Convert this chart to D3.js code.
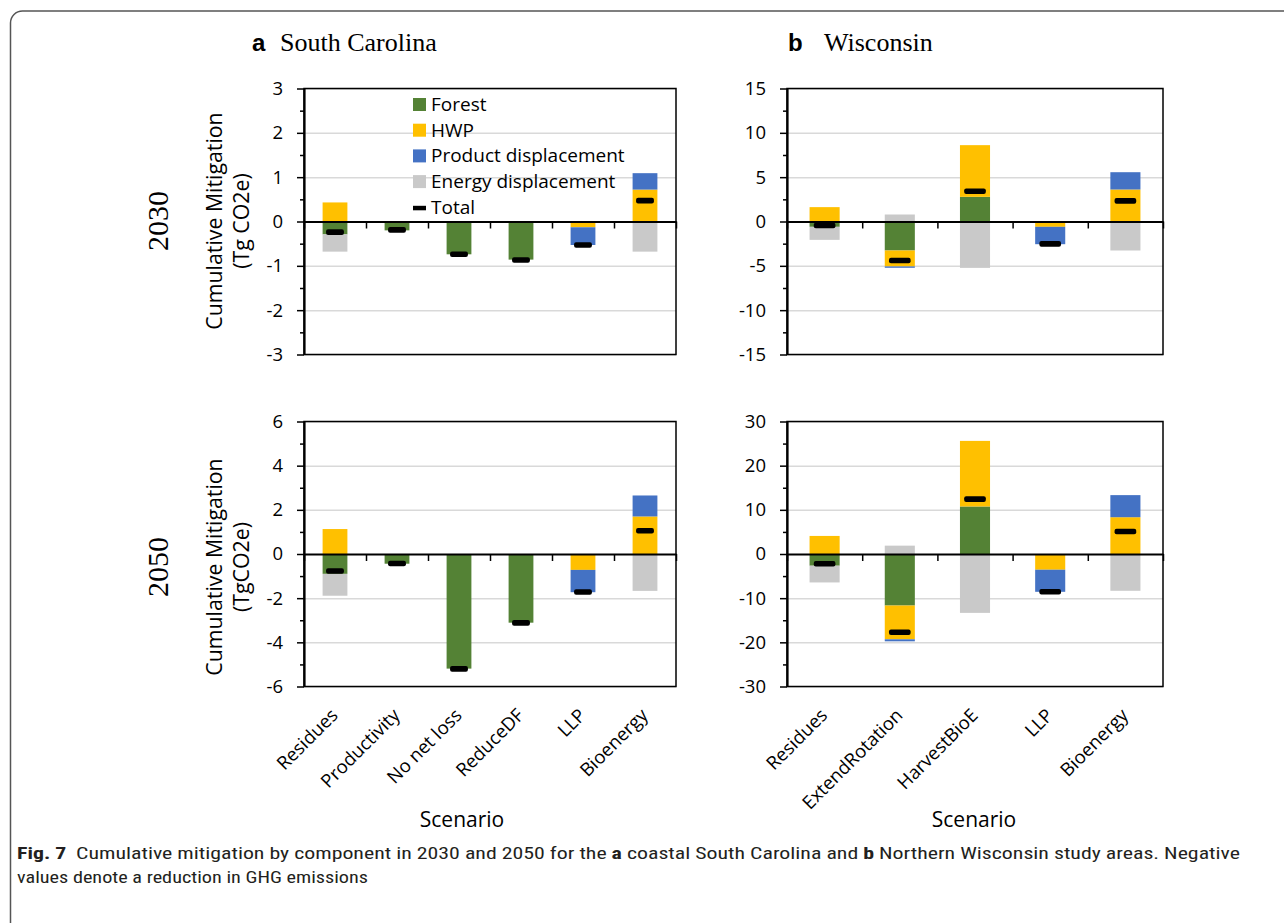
<!DOCTYPE html>
<html>
<head>
<meta charset="utf-8">
<script src="https://cdnjs.cloudflare.com/ajax/libs/d3/7.8.5/d3.min.js"></script>
<style>
  body { margin: 0; background: #fff; }
  text { font-family: "Open Sans", sans-serif; fill: #000; }
</style>
</head>
<body>
<div id="chart"></div>
<script>
// series names, in Excel stacking order
const keys = ["Forest", "HWP", "Product displacement", "Energy displacement"];
const colors = ["#548235", "#FFC000", "#4472C4", "#C9C9C9"];

const scCats = ["Residues", "Productivity", "No net loss", "ReduceDF", "LLP", "Bioenergy"];
const wiCats = ["Residues", "ExtendRotation", "HarvestBioE", "LLP", "Bioenergy"];

// South Carolina 2030 (Tg CO2e)
const sc30Forest  = [-0.29, -0.20, -0.74, -0.86, 0, 0];
const sc30HWP     = [0.43, 0, 0, 0, -0.13, 0.72];
const sc30Product = [0, 0, 0, 0, -0.40, 0.37];
const sc30Energy  = [-0.39, 0, 0, 0, 0, -0.68];
const sc30Total   = [-0.24, -0.19, -0.74, -0.87, -0.53, 0.47];

// South Carolina 2050
const sc50Forest  = [-0.90, -0.44, -5.19, -3.11, 0, 0];
const sc50HWP     = [1.13, 0, 0, 0, -0.72, 1.70];
const sc50Product = [0, 0, 0, 0, -1.01, 0.95];
const sc50Energy  = [-0.99, 0, 0, 0, 0, -1.67];
const sc50Total   = [-0.77, -0.43, -5.20, -3.12, -1.72, 1.05];

// Wisconsin 2030
const wi30Forest  = [-0.60, -3.27, 2.78, 0, 0];
const wi30HWP     = [1.62, -1.80, 5.83, -0.60, 3.61];
const wi30Product = [0, -0.15, 0, -1.96, 1.95];
const wi30Energy  = [-1.47, 0.79, -5.23, 0, -3.27];
const wi30Total   = [-0.45, -4.40, 3.42, -2.52, 2.33];

// Wisconsin 2050
const wi50Forest  = [-2.65, -11.67, 10.76, 0, 0];
const wi50HWP     = [4.09, -7.65, 14.85, -3.56, 8.33];
const wi50Product = [0, -0.45, 0, -5.00, 5.00];
const wi50Energy  = [-3.79, 1.89, -13.33, 0, -8.33];
const wi50Total   = [-2.20, -17.70, 12.42, -8.56, 5.08];

const W = 1284, H = 923;

const svg = d3.select("#chart").append("svg")
    .attr("width", W)
    .attr("height", H);

// rounded figure frame
svg.append("rect")
    .attr("x", 10.5).attr("y", 11)
    .attr("width", 1300).attr("height", 1000)
    .attr("rx", 12)
    .attr("fill", "none")
    .attr("stroke", "#555")
    .attr("stroke-width", 1.5);

function drawPanel(p) {
    const rows = p.cats.map((c, i) => {
        const r = { cat: c };
        r[keys[0]] = p.forest[i];
        r[keys[1]] = p.hwp[i];
        r[keys[2]] = p.product[i];
        r[keys[3]] = p.energy[i];
        r.total = p.total[i];
        return r;
    });
    const stacked = d3.stack().keys(keys).offset(d3.stackOffsetDiverging)(rows);

    const x = d3.scaleBand().domain(p.cats).range([p.x0, p.x1]).paddingInner(0.6).paddingOuter(0.3);
    const y = d3.scaleLinear().domain(p.domain).range([p.y1, p.y0]);
    const g = svg.append("g");

    // gridlines
    g.append("g")
        .attr("transform", "translate(" + p.x0 + ",0)")
        .call(d3.axisLeft(y).tickValues(p.major.filter(v => v != 0)).tickSize(-(p.x1 - p.x0)).tickFormat(""))
        .call(a => a.select(".domain").remove())
        .selectAll("line").attr("stroke", "#d9d9d9").attr("stroke-width", 1.5);

    // stacked bars
    g.selectAll(".series")
        .data(stacked)
        .enter().append("g")
        .attr("fill", (d, i) => colors[i])
        .selectAll("rect")
        .data(d => d)
        .enter().append("rect")
        .attr("x", d => x(d.data.cat))
        .attr("y", d => y(Math.max(d[0], d[1])))
        .attr("width", x.bandwidth())
        .attr("height", d => Math.abs(y(d[0]) - y(d[1])));

    // plot frame
    g.append("rect")
        .attr("x", p.x0).attr("y", p.y0)
        .attr("width", p.x1 - p.x0).attr("height", p.y1 - p.y0)
        .attr("fill", "none").attr("stroke", "#000").attr("stroke-width", 1.5);

    // y axis, minor then major
    g.append("g")
        .attr("transform", "translate(" + p.x0 + ",0)")
        .call(d3.axisLeft(y).tickValues(p.minor).tickSize(4).tickSizeOuter(0).tickFormat(""))
        .call(a => a.select(".domain").remove())
        .selectAll("line").attr("stroke-width", 1.5);
    const ya = g.append("g")
        .attr("transform", "translate(" + p.x0 + ",0)")
        .call(d3.axisLeft(y).tickValues(p.major).tickSize(7).tickSizeOuter(0).tickPadding(14).tickFormat(d => String(d)));
    ya.select(".domain").attr("stroke-width", 2.2);
    ya.selectAll("line").attr("stroke-width", 1.5);
    ya.selectAll("text").style("font-size", "18.5px").style("font-family", "'Open Sans', sans-serif");

    // zero line with category separators
    const sep = d3.scaleLinear().domain([0, p.cats.length]).range([p.x0, p.x1]);
    const za = g.append("g")
        .attr("transform", "translate(0," + y(0) + ")")
        .call(d3.axisBottom(sep).tickValues(d3.range(p.cats.length + 1)).tickSize(7).tickSizeOuter(0).tickFormat(""));
    za.select(".domain").attr("stroke-width", 2.2);
    za.selectAll("line").attr("stroke-width", 1.5);

    // totals
    const mw = x.bandwidth() * 0.72;
    g.selectAll(".total")
        .data(rows)
        .enter().append("rect")
        .attr("class", "total")
        .attr("x", d => x(d.cat) + (x.bandwidth() - mw) / 2)
        .attr("y", d => y(d.total) - 2.8)
        .attr("width", mw)
        .attr("height", 5.6)
        .attr("rx", 2)
        .attr("fill", "#000");

    // category labels
    if (p.xlabels) {
        const xa = g.append("g")
            .attr("transform", "translate(0," + p.y1 + ")")
            .call(d3.axisBottom(x).tickSize(0));
        xa.select(".domain").remove();
        xa.selectAll("text")
            .attr("x", 0).attr("y", 0).attr("dy", 0)
            .attr("text-anchor", "end")
            .attr("transform", "translate(4,30) rotate(-45)")
            .style("font-size", "18.5px")
            .style("font-family", "'Open Sans', sans-serif");
        svg.append("text")
            .attr("x", p.scenX).attr("y", 827)
            .attr("text-anchor", "middle")
            .style("font-size", "21px")
            .text("Scenario");
    }

    // legend
    if (p.legend) {
        const lg = svg.append("g").attr("transform", "translate(413,98)");
        const items = keys.concat(["Total"]);
        const it = lg.selectAll("g").data(items).enter().append("g")
            .attr("transform", (d, i) => "translate(0," + (i * 25.7) + ")");
        it.append("rect")
            .attr("y", (d, i) => i < 4 ? 0 : 5)
            .attr("width", 13)
            .attr("height", (d, i) => i < 4 ? 13 : 4.5)
            .attr("fill", (d, i) => i < 4 ? colors[i] : "#000");
        it.append("text")
            .attr("x", 18).attr("y", 13)
            .style("font-size", "19px")
            .text(d => d);
    }
}

drawPanel({ cats: scCats, forest: sc30Forest, hwp: sc30HWP, product: sc30Product, energy: sc30Energy, total: sc30Total,
    x0: 304, x1: 676, y0: 88.5, y1: 354.5, domain: [-3, 3],
    major: d3.range(-3, 3.01, 1), minor: d3.range(-2.5, 3, 1), legend: true });
drawPanel({ cats: wiCats, forest: wi30Forest, hwp: wi30HWP, product: wi30Product, energy: wi30Energy, total: wi30Total,
    x0: 787, x1: 1163, y0: 88.5, y1: 354.5, domain: [-15, 15],
    major: d3.range(-15, 15.01, 5), minor: d3.range(-12.5, 15, 5) });
drawPanel({ cats: scCats, forest: sc50Forest, hwp: sc50HWP, product: sc50Product, energy: sc50Energy, total: sc50Total,
    x0: 304, x1: 676, y0: 421.5, y1: 686.5, domain: [-6, 6],
    major: d3.range(-6, 6.01, 2), minor: d3.range(-5, 6, 2), xlabels: true, scenX: 462 });
drawPanel({ cats: wiCats, forest: wi50Forest, hwp: wi50HWP, product: wi50Product, energy: wi50Energy, total: wi50Total,
    x0: 787, x1: 1163, y0: 421.5, y1: 686.5, domain: [-30, 30],
    major: d3.range(-30, 30.01, 10), minor: d3.range(-25, 30, 10), xlabels: true, scenX: 974 });

// panel titles
function panelTitle(letter, name, lx, nx) {
    svg.append("text").attr("x", lx).attr("y", 51)
        .style("font-family", "'Liberation Sans', Arial, sans-serif")
        .style("font-weight", "bold").style("font-size", "24px")
        .text(letter);
    svg.append("text").attr("x", nx).attr("y", 51)
        .style("font-family", "'Liberation Serif', 'Times New Roman', serif")
        .style("font-size", "26px")
        .text(name);
}
panelTitle("a", "South Carolina", 252, 280);
panelTitle("b", "Wisconsin", 788, 824);

// row labels and y titles
function rowLabels(year, unit, cy) {
    svg.append("text")
        .attr("transform", "translate(168," + cy + ") rotate(-90)")
        .attr("text-anchor", "middle")
        .style("font-family", "'Liberation Serif', 'Times New Roman', serif")
        .style("font-size", "30px")
        .text(year);
    const t = svg.append("text")
        .attr("transform", "translate(222," + cy + ") rotate(-90)")
        .attr("text-anchor", "middle")
        .style("font-size", "21.3px");
    t.append("tspan").attr("x", 0).attr("y", 0).text("Cumulative Mitigation");
    t.append("tspan").attr("x", 0).attr("y", 27).text(unit);
}
rowLabels("2030", "(Tg CO2e)", 221);
rowLabels("2050", "(TgCO2e)", 567);

// caption
const capFont = "'Liberation Sans Narrow', 'Roboto Condensed', 'Liberation Sans', sans-serif";
const c1 = svg.append("text").attr("x", 17).attr("y", 859)
    .attr("textLength", 1223).attr("lengthAdjust", "spacingAndGlyphs")
    .style("font-family", capFont).style("font-size", "17px").style("fill", "#231f20");
c1.append("tspan").style("font-weight", "bold").text("Fig. 7");
c1.append("tspan").text("\u2002Cumulative mitigation by component in 2030 and 2050 for the ");
c1.append("tspan").style("font-weight", "bold").text("a");
c1.append("tspan").text(" coastal South Carolina and ");
c1.append("tspan").style("font-weight", "bold").text("b");
c1.append("tspan").text(" Northern Wisconsin study areas. Negative");
svg.append("text").attr("x", 17).attr("y", 883)
    .attr("textLength", 351).attr("lengthAdjust", "spacingAndGlyphs")
    .style("font-family", capFont).style("font-size", "17px").style("fill", "#231f20")
    .text("values denote a reduction in GHG emissions");
</script>
</body>
</html>
